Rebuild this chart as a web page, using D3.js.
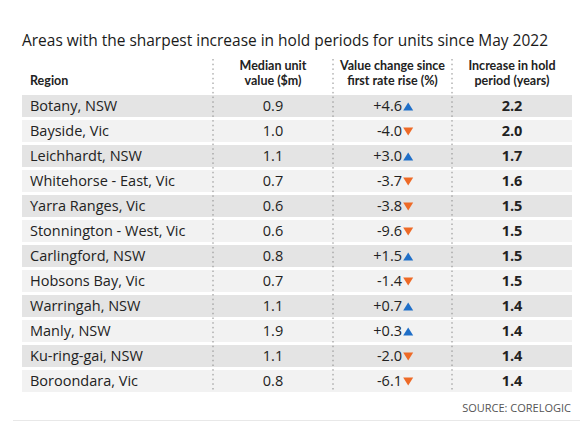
<!DOCTYPE html>
<html><head><meta charset="utf-8">
<script src="https://cdn.jsdelivr.net/npm/d3@7"></script>
<style>body{margin:0;background:#fff}svg{display:block}</style>
</head><body>
<script>
const title = "Areas with the sharpest increase in hold periods for units since May 2022";
const headers = [["Region"], ["Median unit", "value ($m)"], ["Value change since", "first rate rise (%)"], ["Increase in hold", "period (years)"]];
const regions = ["Botany, NSW","Bayside, Vic","Leichhardt, NSW","Whitehorse - East, Vic","Yarra Ranges, Vic","Stonnington - West, Vic","Carlingford, NSW","Hobsons Bay, Vic","Warringah, NSW","Manly, NSW","Ku-ring-gai, NSW","Boroondara, Vic"];
const medianValues = [0.9,1.0,1.1,0.7,0.6,0.6,0.8,0.7,1.1,1.9,1.1,0.8];
const valueChanges = [4.6,-4.0,3.0,-3.7,-3.8,-9.6,1.5,-1.4,0.7,0.3,-2.0,-6.1];
const holdIncreases = [2.2,2.0,1.7,1.6,1.5,1.5,1.5,1.5,1.4,1.4,1.4,1.4];
const source = "SOURCE: CORELOGIC";

const W = 588, H = 428;
const svg = d3.select("body").append("svg").attr("width", W).attr("height", H)
  .style("font-family", "'Open Sans', 'Noto Sans', sans-serif");

const colEdges = [22, 213, 333, 452, 572];
const colCenter = i => (colEdges[i] + colEdges[i+1]) / 2;

const y = d3.scaleBand().domain(d3.range(regions.length)).range([93.5, 393.5]).paddingInner(0.12).paddingOuter(0.06);

// title
svg.append("text").attr("x", 22).attr("y", 46).text(title)
  .attr("font-size", 16.5).attr("fill", "#1a1a1a")
  .attr("textLength", 526).attr("lengthAdjust", "spacingAndGlyphs");

// row bands
svg.append("g").selectAll("rect").data(regions).join("rect")
  .attr("x", colEdges[0]).attr("width", colEdges[4] - colEdges[0])
  .attr("y", (d,i) => y(i)).attr("height", y.bandwidth())
  .attr("fill", (d,i) => i % 2 === 0 ? "#e4e4e4" : "#f2f2f2");

// dotted separators
svg.append("g").selectAll("line").data([1,2,3]).join("line")
  .attr("x1", i => colEdges[i]).attr("x2", i => colEdges[i])
  .attr("y1", 59).attr("y2", 392)
  .attr("stroke", "#8a8a8a").attr("stroke-width", 1).attr("stroke-dasharray", "1.5,3.2");

// headers (one text element per line)
const hg = svg.append("g").attr("font-size", 12.5).attr("font-weight", "bold").attr("fill", "#222")
  .style("font-family", "Lato, 'Open Sans', sans-serif");
const headerLines = [];
headers.forEach((lines, i) => {
  lines.forEach((l, k) => headerLines.push({
    text: l,
    x: i === 0 ? 30 : colCenter(i),
    anchor: i === 0 ? "start" : "middle",
    y: 85 - (lines.length - 1 - k) * 15
  }));
});
hg.selectAll("text").data(headerLines).join("text")
  .attr("x", d => d.x).attr("y", d => d.y).attr("text-anchor", d => d.anchor)
  .text(d => d.text);

const rowC = i => y(i) + y.bandwidth() / 2;

const body = svg.append("g").attr("font-size", 14.5).attr("fill", "#222");
body.selectAll(".reg").data(regions).join("text").attr("class","reg")
  .attr("x", 30).attr("y", (d,i) => rowC(i) + 5).text(d => d);
body.selectAll(".med").data(medianValues).join("text").attr("class","med")
  .attr("x", colCenter(1)).attr("text-anchor", "middle")
  .attr("y", (d,i) => rowC(i) + 5).text(d => d.toFixed(1));
body.selectAll(".chg").data(valueChanges).join("text").attr("class","chg")
  .attr("x", colCenter(2) + 9.5).attr("text-anchor", "end")
  .attr("y", (d,i) => rowC(i) + 5).text(d => (d > 0 ? "+" : "") + d.toFixed(1));
body.selectAll(".hold").data(holdIncreases).join("text").attr("class","hold")
  .attr("x", colCenter(3)).attr("text-anchor", "middle").attr("font-weight", "bold")
  .attr("y", (d,i) => rowC(i) + 5).text(d => d.toFixed(1));

// triangles
const tx = colCenter(2) + 15.7;
svg.append("g").selectAll("path").data(valueChanges).join("path")
  .attr("transform", (d,i) => `translate(${tx},${rowC(i) + 1})`)
  .attr("d", d => d > 0 ? "M-5,3.6L5,3.6L0,-4.4Z" : "M-5,-4.4L5,-4.4L0,3.6Z")
  .attr("fill", d => d > 0 ? "#1f6fc8" : "#ee6a27");

// source
svg.append("text").attr("x", 571).attr("y", 412).attr("text-anchor", "end")
  .attr("font-size", 11).attr("fill", "#555").text(source);

svg.append("line").attr("x1", 13).attr("x2", 580).attr("y1", 420.5).attr("y2", 420.5)
  .attr("stroke", "#e8e8e8").attr("stroke-width", 1);
</script>
</body></html>
